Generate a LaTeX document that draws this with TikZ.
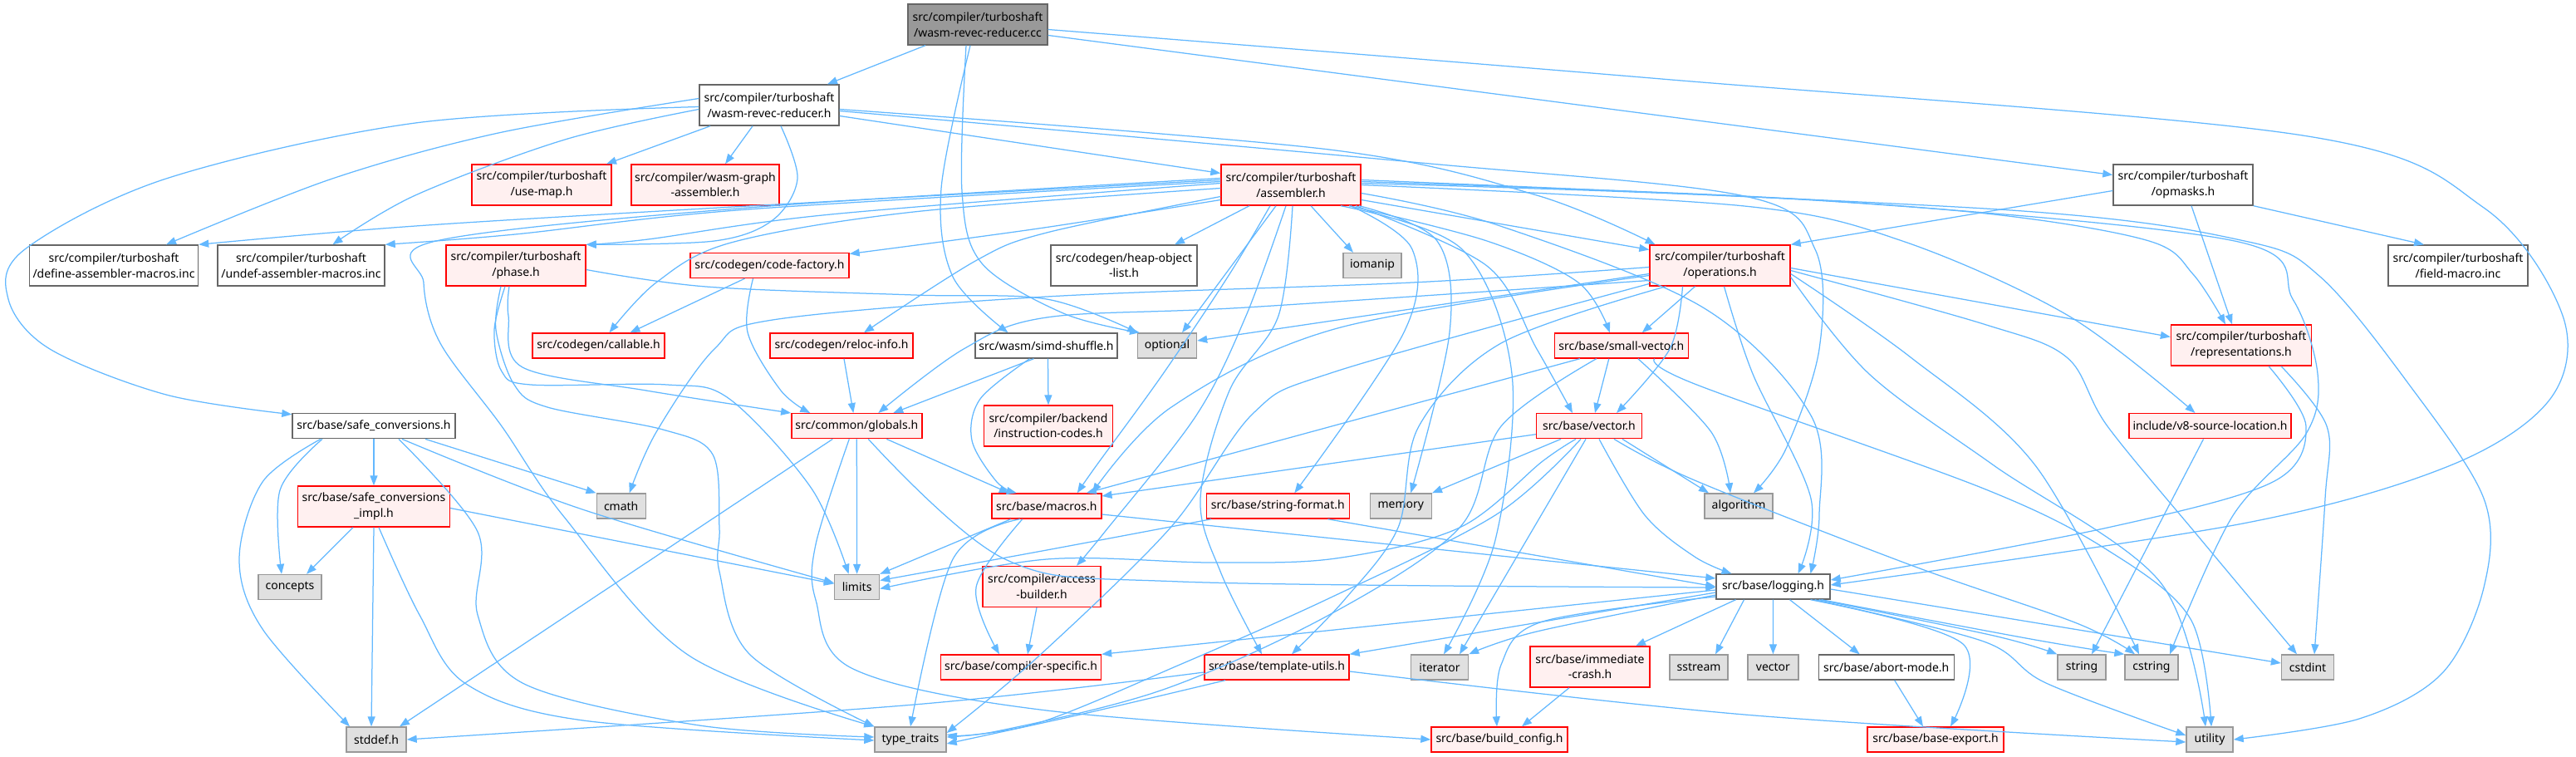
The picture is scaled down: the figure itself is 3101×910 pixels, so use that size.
\documentclass[tikz,border=0pt]{standalone}
\usepackage{fontspec}
\setmainfont{Noto Sans}
\usetikzlibrary{arrows.meta}
\definecolor{eblue}{HTML}{63B8FF}
\definecolor{redbd}{HTML}{FF0000}
\definecolor{redfill}{HTML}{FFF0F0}
\definecolor{graybd}{HTML}{999999}
\definecolor{grayfill}{HTML}{E0E0E0}
\definecolor{darkbd}{HTML}{666666}
\definecolor{rootfill}{HTML}{999999}
\tikzset{
  box/.style={rectangle, inner xsep=2pt, inner ysep=0pt, line width=1.4pt, align=center,
     font=\fontsize{14}{18.5}\selectfont, text=black},
  hdr/.style={box, draw=redbd, fill=redfill},
  sys/.style={box, draw=graybd, fill=grayfill},
  plain/.style={box, draw=darkbd, fill=white},
  rootbox/.style={box, draw=darkbd, fill=rootfill},
  edge/.style={draw=eblue, line width=1.25pt, -{Triangle[length=12pt,width=9pt]}},
}
\newcommand\ed[1]{\draw[edge] plot[smooth,tension=.55] coordinates {#1};}
\newcommand\bx[6]{\node[#1, minimum width=#4pt, minimum height=#5pt] (#2) at (#3) {#6};}
\begin{document}
\begin{tikzpicture}[x=1pt,y=-1pt]
\useasboundingbox (0,0) rectangle (3101,910);
% nodes
\bx{rootbox}{R}{1177,29.5}{168}{49}{src/compiler/turboshaft\\/wasm-revec-reducer.cc}
\bx{plain}{W}{926,126.5}{168}{49}{src/compiler/turboshaft\\/wasm-revec-reducer.h}
\bx{hdr}{ASM}{1554,222.5}{168}{49}{src/compiler/turboshaft\\/assembler.h}
\bx{hdr}{UM}{652,222.5}{168}{49}{src/compiler/turboshaft\\/use-map.h}
\bx{hdr}{WGA}{849,222.5}{178}{49}{src/compiler/wasm-graph\\-assembler.h}
\bx{plain}{OPM}{2628,222.5}{168}{49}{src/compiler/turboshaft\\/opmasks.h}
\bx{plain}{DEF}{137,319.5}{203}{49}{src/compiler/turboshaft\\/define-assembler-macros.inc}
\bx{plain}{UNDEF}{362.5,319.5}{201}{49}{src/compiler/turboshaft\\/undef-assembler-macros.inc}
\bx{hdr}{PH}{621,319.5}{168}{49}{src/compiler/turboshaft\\/phase.h}
\bx{hdr}{CF}{926.5,319.5}{191}{30}{src/codegen/code-factory.h}
\bx{plain}{HOL}{1353,319.5}{176}{49}{src/codegen/heap-object\\-list.h}
\bx{sys}{IOM}{1652,319.5}{70}{30}{iomanip}
\bx{hdr}{OPS}{2070.5,319.5}{169}{49}{src/compiler/turboshaft\\/operations.h}
\bx{plain}{FM}{2959,319.5}{168}{49}{src/compiler/turboshaft\\/field-macro.inc}
\bx{hdr}{CAL}{720.5,416}{159}{30}{src/codegen/callable.h}
\bx{hdr}{RI}{1013,416}{172}{30}{src/codegen/reloc-info.h}
\bx{plain}{SS}{1259.5,416}{171}{30}{src/wasm/simd-shuffle.h}
\bx{sys}{OPT}{1405,416}{71}{30}{optional}
\bx{hdr}{SV}{1951.8,416}{161}{30}{src/base/small-vector.h}
\bx{hdr}{REP}{2698,415.5}{169}{49}{src/compiler/turboshaft\\/representations.h}
\bx{plain}{SC}{450,512.7}{196}{30}{src/base/safe\_conversions.h}
\bx{hdr}{GL}{1031.3,512.7}{157}{30}{src/common/globals.h}
\bx{hdr}{IC}{1262,512.5}{155}{49}{src/compiler/backend\\/instruction-codes.h}
\bx{hdr}{VEC}{1913,512.7}{127}{30}{src/base/vector.h}
\bx{hdr}{V8SL}{2660.5,512.7}{195}{30}{include/v8-source-location.h}
\bx{hdr}{SCI}{450,609.5}{183}{49}{src/base/safe\_conversions\\\_impl.h}
\bx{sys}{CMATH}{747.7,609}{59}{30}{cmath}
\bx{hdr}{MAC}{1259.8,609}{132}{30}{src/base/macros.h}
\bx{hdr}{SF}{1538.3,609}{172}{30}{src/base/string-format.h}
\bx{sys}{MEM}{1686.3,609}{74}{30}{memory}
\bx{sys}{ALG}{2093,609}{82}{30}{algorithm}
\bx{sys}{CON}{349,706.5}{76}{30}{concepts}
\bx{sys}{LIM}{1031.6,706.5}{54}{30}{limits}
\bx{hdr}{AB}{1254,706}{142}{49}{src/compiler/access\\-builder.h}
\bx{plain}{LOG}{2134.5,706}{137}{30}{src/base/logging.h}
\bx{hdr}{CS}{1229,803}{193}{30}{src/base/compiler-specific.h}
\bx{hdr}{TU}{1537,803}{174}{30}{src/base/template-utils.h}
\bx{sys}{IT}{1733,803}{69}{30}{iterator}
\bx{hdr}{IMC}{1914,802.5}{144}{49}{src/base/immediate\\-crash.h}
\bx{sys}{SST}{2045,803}{70}{30}{sstream}
\bx{sys}{VECTOR}{2134.4,803}{61}{30}{vector}
\bx{plain}{AM}{2270.7,803}{163}{30}{src/base/abort-mode.h}
\bx{sys}{STR}{2506,803}{58}{30}{string}
\bx{sys}{CSTR}{2590,803}{64}{30}{cstring}
\bx{sys}{CSTDINT}{2778,803}{63}{30}{cstdint}
\bx{sys}{STDDEF}{453,890}{72}{30}{stddef.h}
\bx{sys}{TT}{1096,890}{86}{30}{type\_traits}
\bx{hdr}{BC}{1805,890}{164}{30}{src/base/build\_config.h}
\bx{hdr}{BE}{2330,890}{164}{30}{src/base/base-export.h}
\bx{sys}{UT}{2660,890}{56}{30}{utility}
% ---- edges: root
\ed{([xshift=-63]R.south) ([xshift=70]W.north)}
\ed{([xshift=-9]R.south) (1133,227) (1147,333) ([xshift=-46]SS.north)}
\ed{([xshift=-14]R.south) (1158,230) (1182,317) (1280,377) ([xshift=-33]OPT.north)}
\ed{([yshift=-13]R.east) ([yshift=12]OPM.west)}
\ed{([yshift=-6]R.east) (2000,95) (2772,163) (2990,250) (3085,380) (3070,480) (2950,560) (2700,630) ([yshift=2]LOG.east)}
% W
\ed{([yshift=-13]W.east) ([yshift=14]ASM.west)}
\ed{([yshift=-5]W.east) (1600,180) (1850,235) ([xshift=-78]OPS.north)}
\ed{([yshift=-7]W.east) (1700,195) (2100,236) (2185,300) (2190,420) (2150,540) ([xshift=18]ALG.north)}
\ed{([xshift=-71]W.south) ([xshift=78]UM.north)}
\ed{([xshift=-20]W.south) ([xshift=24]WGA.north)}
\ed{([yshift=8]W.west) (600,160) (400,215) ([xshift=63]DEF.north)}
\ed{([yshift=-5]W.west) (680,168) (500,235) ([xshift=38]UNDEF.north)}
\ed{([yshift=-2]W.west) (500,148) (200,215) (30,300) (10,360) (60,420) (200,475) ([yshift=14]SC.west)}
\ed{([xshift=14]W.south) (960,215) (930,265) (860,290) (PH.north east)}
% ASM
\ed{([yshift=6]ASM.west) (900,248) (500,272) (DEF.north east)}
\ed{([yshift=4]ASM.west) (900,252) (620,282) (UNDEF.north east)}
\ed{([yshift=2]ASM.west) (1000,258) (780,288) (PH.north east)}
\ed{([yshift=-18]ASM.west) (1250,275) ([yshift=14]CF.east)}
\ed{([yshift=-4]ASM.west) (1100,255) (880,292) (790,340) ([xshift=13]CAL.north)}
\ed{([yshift=-14]ASM.west) (1260,280) (1176,313) ([xshift=27]RI.north)}
\ed{([xshift=-50]ASM.south) ([xshift=61]HOL.north)}
\ed{([xshift=24]ASM.south) ([xshift=-23]IOM.north)}
\ed{([xshift=-18]ASM.south) ([xshift=18]OPT.north)}
\ed{([yshift=-18]ASM.east) ([yshift=19]OPS.west)}
\ed{([xshift=70]ASM.south) (1790,290) (1900,340) ([xshift=-14]SV.north)}
\ed{([xshift=78]ASM.south) (1790,320) (1850,420) ([xshift=-20]VEC.north)}
\ed{([yshift=4]ASM.east) (2100,236) (2400,258) (2587,290) (2640,330) ([xshift=-19]REP.north)}
\ed{([yshift=0]ASM.east) (2100,248) (2290,290) (2490,380) ([xshift=-18]V8SL.north)}
\ed{([xshift=72]ASM.south) (1700,300) (1690,400) ([xshift=20]SF.north)}
\ed{([xshift=82]ASM.south) (1730,290) (1745,400) ([xshift=12]MEM.north)}
\ed{([xshift=2]ASM.south) (1539,380) (1480,470) (1445,600) (1470,690) ([xshift=-18]TU.north)}
\ed{([xshift=-6]ASM.south) (1500,380) (1440,500) (1330,640) ([xshift=42]AB.north)}
\ed{([xshift=-25]ASM.south) (1480,330) (1400,450) (1320,560) ([xshift=37]MAC.north)}
\ed{([yshift=8]ASM.west) (900,250) (525,290) (510,340) (530,413) (604,513) (679,622) (828,788) (TT.north west)}
\ed{([yshift=-10]ASM.east) (1800,270) (2050,370) (2180,500) (2190,620) ([xshift=45]LOG.north)}
\ed{([yshift=2]ASM.east) (2200,242) (2690,290) (2760,360) (2790,450) (2776,522) (2687,622) ([xshift=22]CSTR.north)}
\ed{([yshift=6]ASM.east) (2421,253) (2702,290) (2793,333) (2898,460) (2990,600) (2990,707) (2940,810) (2840,865) (UT.east)}
\ed{([xshift=60]ASM.south) (1760,300) (1820,450) (1800,650) ([xshift=5]IT.north)}
% OPS
\ed{([yshift=-10]OPS.west) ([yshift=6]OPT.east)}
\ed{([xshift=-30]OPS.south) ([xshift=25]SV.north)}
\ed{([xshift=-45]OPS.south) (2010,420) ([xshift=33]VEC.north)}
\ed{([yshift=-3]OPS.east) ([yshift=10]REP.west)}
\ed{([yshift=-2]OPS.west) (1700,340) (1260,357) (930,385) (860,420) (790,520) ([xshift=10]CMATH.north)}
\ed{([yshift=-18]OPS.west) (1500,370) (1260,382) (1160,420) ([xshift=26]GL.north)}
\ed{([yshift=-12]OPS.west) (1610,395) (1410,490) ([xshift=55]MAC.north)}
\ed{([xshift=5]OPS.south) (2110,450) (2180,600) ([xshift=30]LOG.north)}
\ed{([yshift=-22]OPS.west) (1608,447) (1509,497) (1409,635) (1250,790) ([yshift=8]TT.east)}
\ed{([xshift=-65]OPS.south) (1807,413) (1708,513) (1683,635) (1620,720) ([xshift=18]TU.north)}
\ed{([yshift=-6]OPS.east) (2388,390) (2488,430) (2537,513) (2650,650) ([xshift=-13]CSTDINT.north)}
\ed{([yshift=-10]OPS.east) (2300,430) (2450,560) ([xshift=-15]CSTR.north)}
\ed{([yshift=-14]OPS.east) (2250,450) (2400,560) (2600,700) ([xshift=-5]UT.north)}
% OPM
\ed{([yshift=-7]OPM.west) (OPS.north east)}
\ed{([xshift=10]OPM.south) ([xshift=-11]REP.north)}
\ed{(OPM.south east) ([xshift=-41]FM.north)}
% CF, RI, SS
\ed{([xshift=-30]CF.south) ([xshift=38]CAL.north)}
\ed{([xshift=-20]CF.south) (900,400) (940,470) ([xshift=-56]GL.north)}
\ed{([xshift=3]RI.south) ([xshift=-4]GL.north)}
\ed{([xshift=-15]SS.south) ([xshift=44]GL.north)}
\ed{([xshift=-20]SS.south) (1180,480) (1170,530) (1200,580) ([xshift=-36]MAC.north)}
\ed{([xshift=2]SS.south) (IC.north)}
% PH
\ed{([yshift=-5]PH.east) (850,345) (1100,355) (1260,360) ([xshift=-36]OPT.north)}
\ed{([xshift=-8]PH.south) (612,380) (629,442) (778,470) (GL.north west)}
\ed{([xshift=-13]PH.south) (595,397) (604,447) (639,463) (803,463) (878,480) (977,588) ([xshift=-10]LIM.north)}
\ed{([xshift=-18]PH.south) (597,397) (619,463) (659,490) (798,517) (858,547) (866,635) (866,688) (903,788) (TT.north west)}
% SC
\ed{(SC.south) (SCI.north)}
\ed{([xshift=-62]SC.south) (337,590) ([xshift=-10]CON.north)}
\ed{([xshift=-64]SC.south) (316,580) (288,673) (316,757) ([xshift=-32]STDDEF.north)}
\ed{([xshift=30]SC.south) (575,640) (575,740) (631,823) (842,873) ([yshift=3]TT.west)}
\ed{([xshift=34]SC.south) (701,613) ([yshift=5]LIM.west)}
\ed{([xshift=62]SC.south) (CMATH.north west)}
% SCI
\ed{([xshift=-25]SCI.south) ([xshift=20]CON.north)}
\ed{(SCI.south) ([xshift=-6]STDDEF.north)}
\ed{([xshift=6]SCI.south) (505,740) (561,823) (702,867) ([yshift=-1]TT.west)}
\ed{([yshift=-2]SCI.east) ([yshift=4]LIM.west)}
% GL
\ed{([xshift=-29]GL.south) ([xshift=28]STDDEF.north)}
\ed{(GL.south) (LIM.north)}
\ed{([xshift=36]GL.south) ([xshift=-45]MAC.north)}
\ed{([xshift=14]GL.south) (1210,673) (1421,700) ([yshift=-1]LOG.west)}
\ed{([xshift=-9]GL.south) (982,655) (982,722) (1027,805) (1260,855) (BC.west)}
% MAC
\ed{([xshift=-43]MAC.south) (LIM.north east)}
\ed{([xshift=-32]MAC.south) (1147,673) (TT.north)}
\ed{([xshift=-29]MAC.south) (1175,707) ([xshift=-26]CS.north)}
\ed{([yshift=-10]MAC.east) ([yshift=10]LOG.west)}
% SF
\ed{([xshift=-80]SF.south) (1260,662) ([yshift=8]LIM.east)}
\ed{([xshift=60]SF.south) ([yshift=0]LOG.west)}
% VEC
\ed{([yshift=-10]VEC.west) ([yshift=12]MAC.east)}
\ed{([xshift=-34]VEC.south) (MEM.north east)}
\ed{([xshift=-16]VEC.south) (1857,555) (1757,635) (1608,672) (1459,677) (1260,673) ([yshift=-2]LIM.east)}
\ed{([xshift=-10]VEC.south) (1800,620) (1600,720) (1420,800) (1250,870) ([yshift=3]TT.east)}
\ed{([xshift=-4]VEC.south) ([xshift=24]IT.north)}
\ed{([xshift=12]VEC.south) (1980,620) (2040,670) ([xshift=-50]LOG.north)}
\ed{([xshift=40]VEC.south) ([xshift=-36]ALG.north)}
\ed{([xshift=30]VEC.south) (2040,578) (2300,680) (2500,750) ([xshift=-20]CSTR.north)}
% SV
\ed{([xshift=-15]SV.south) ([xshift=7]VEC.north)}
\ed{([xshift=-50]SV.south) ([xshift=48]MAC.north)}
\ed{([xshift=20]SV.south) (2060,520) ([xshift=-10]ALG.north)}
\ed{([xshift=-30]SV.south) (1807,513) (1757,635) (1600,740) (1400,830) (1200,880) ([yshift=6]TT.east)}
\ed{([xshift=40]SV.south) (2040,462) (2388,588) (2537,662) (2637,745) ([xshift=2]UT.north)}
% TU, AB
\ed{([yshift=-6]TU.west) (1100,848) (STDDEF.east)}
\ed{([xshift=-62]TU.south) (1300,860) ([yshift=-5]TT.east)}
\ed{([yshift=-5]TU.east) (2100,860) ([yshift=-3]UT.west)}
\ed{([xshift=-6]AB.south) ([xshift=8]CS.north)}
% LOG
\ed{([yshift=-4]LOG.west) (CS.north east)}
\ed{([yshift=-7]LOG.west) (TU.north east)}
\ed{([yshift=-10]LOG.west) (1850,760) (IT.north east)}
\ed{([xshift=-45]LOG.south) ([xshift=55]IMC.north)}
\ed{([yshift=-12]LOG.west) (1857,748) (1807,800) ([xshift=-3]BC.north)}
\ed{([xshift=-35]LOG.south) ([xshift=20]SST.north)}
\ed{(LOG.south) (VECTOR.north)}
\ed{([xshift=20]LOG.south) ([xshift=-32]AM.north)}
\ed{([xshift=45]LOG.south) (2363,775) ([xshift=18]BE.north)}
\ed{([xshift=50]LOG.south) (2388,772) (2463,822) ([yshift=5]UT.west)}
\ed{([xshift=55]LOG.south) (2400,765) (STR.north west)}
\ed{([xshift=58]LOG.south) (2450,770) (CSTR.north west)}
\ed{([yshift=-3]LOG.east) ([yshift=5]CSTDINT.west)}
\ed{([xshift=-25]IMC.south) ([xshift=27]BC.north)}
\ed{([xshift=10]AM.south) ([xshift=-15]BE.north)}
% V8SL, REP
\ed{([xshift=-8]V8SL.south) ([xshift=12]STR.north)}
\ed{([xshift=33]REP.south) (2776,513) (2736,580) (2537,635) ([yshift=8]LOG.east)}
\ed{([xshift=48]REP.south) (2801,513) (2799,600) ([xshift=8]CSTDINT.north)}
\end{tikzpicture}
\end{document}
